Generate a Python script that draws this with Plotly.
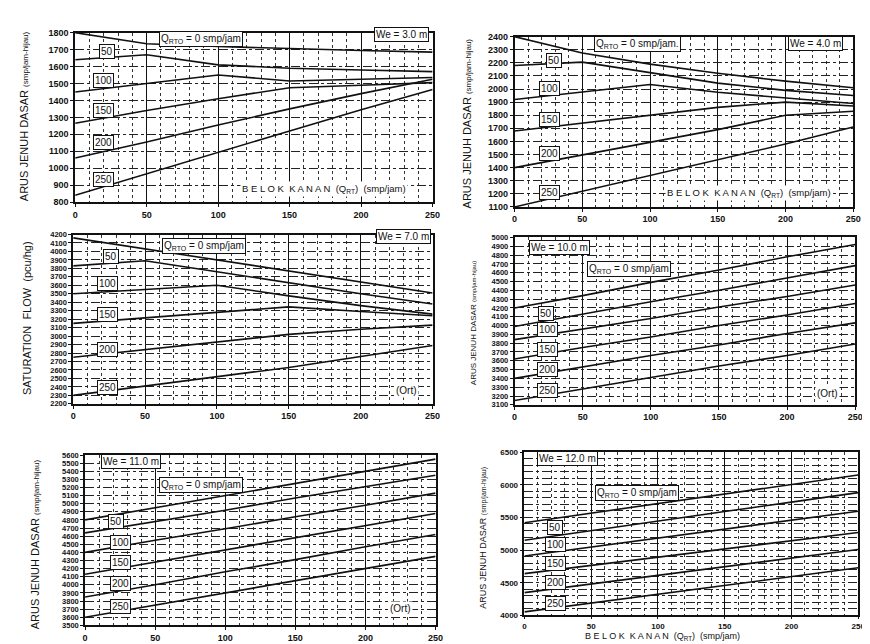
import plotly.graph_objects as go
from plotly.subplots import make_subplots

# ---------------- data ----------------
QRT = [0, 50, 100, 150, 200, 250]          # BELOK KANAN (Q_RT) smp/jam
QRTO_LEVELS = [0, 50, 100, 150, 200, 250]  # Q_RTO curves

# We = 3.0 m
we30_q0 = [1800, 1735, 1718, 1705, 1695, 1685]
we30_q50 = [1640, 1670, 1610, 1590, 1580, 1570]
we30_q100 = [1450, 1500, 1550, 1515, 1525, 1535]
we30_q150 = [1265, 1340, 1410, 1475, 1490, 1505]
we30_q200 = [1060, 1155, 1255, 1350, 1440, 1525]
we30_q250 = [840, 968, 1095, 1220, 1345, 1465]

# We = 4.0 m
we40_q0 = [2400, 2275, 2190, 2120, 2060, 2010]
we40_q50 = [2180, 2205, 2125, 2045, 1990, 1950]
we40_q100 = [1920, 1975, 2035, 1975, 1930, 1890]
we40_q150 = [1680, 1740, 1800, 1860, 1900, 1870]
we40_q200 = [1400, 1495, 1590, 1690, 1800, 1830]
we40_q250 = [1100, 1220, 1340, 1455, 1580, 1710]

# We = 7.0 m
we70_q0 = [4160, 4030, 3900, 3770, 3640, 3510]
we70_q50 = [3830, 3890, 3760, 3630, 3500, 3380]
we70_q100 = [3500, 3550, 3600, 3475, 3360, 3260]
we70_q150 = [3150, 3215, 3280, 3345, 3290, 3240]
we70_q200 = [2750, 2840, 2930, 3020, 3080, 3130]
we70_q250 = [2300, 2410, 2520, 2630, 2760, 2890]

# We = 10.0 m
we100_q0 = [4200, 4340, 4490, 4630, 4780, 4920]
we100_q50 = [3990, 4130, 4270, 4400, 4540, 4680]
we100_q100 = [3840, 3960, 4080, 4210, 4330, 4460]
we100_q150 = [3620, 3750, 3870, 4000, 4120, 4250]
we100_q200 = [3400, 3530, 3660, 3780, 3910, 4030]
we100_q250 = [3150, 3280, 3410, 3540, 3660, 3790]

# We = 11.0 m
we110_q0 = [4800, 4950, 5100, 5250, 5400, 5550]
we110_q50 = [4640, 4780, 4920, 5070, 5210, 5350]
we110_q100 = [4400, 4550, 4690, 4840, 4980, 5130]
we110_q150 = [4130, 4280, 4430, 4580, 4730, 4880]
we110_q200 = [3850, 4000, 4160, 4310, 4470, 4620]
we110_q250 = [3600, 3750, 3900, 4050, 4200, 4350]

# We = 12.0 m
we120_q0 = [5420, 5565, 5710, 5860, 6005, 6150]
we120_q50 = [5150, 5300, 5445, 5590, 5735, 5880]
we120_q100 = [4910, 5045, 5180, 5320, 5455, 5595]
we120_q150 = [4640, 4765, 4890, 5020, 5145, 5270]
we120_q200 = [4350, 4480, 4615, 4745, 4875, 5010]
we120_q250 = [4055, 4190, 4325, 4460, 4595, 4730]

WE_LABELS = ["We = 3.0 m", "We = 4.0 m", "We = 7.0 m", "We = 10.0 m", "We = 11.0 m", "We = 12.0 m"]
Y_RANGES = [[800, 1800], [1100, 2400], [2200, 4200], [3100, 5000], [3500, 5600], [4000, 6500]]

series = [
    [we30_q0, we30_q50, we30_q100, we30_q150, we30_q200, we30_q250],
    [we40_q0, we40_q50, we40_q100, we40_q150, we40_q200, we40_q250],
    [we70_q0, we70_q50, we70_q100, we70_q150, we70_q200, we70_q250],
    [we100_q0, we100_q50, we100_q100, we100_q150, we100_q200, we100_q250],
    [we110_q0, we110_q50, we110_q100, we110_q150, we110_q200, we110_q250],
    [we120_q0, we120_q50, we120_q100, we120_q150, we120_q200, we120_q250],
]

# ---------------- layout (pixel geometry of each panel) ----------------
W, H = 870, 644
dom_px = [
    ((65, 427), (20, 192)),
    ((510, 853), (24, 197)),
    ((63, 427), (225, 397)),
    ((510, 855), (228, 398)),
    ((75, 430), (449, 622)),
    ((520, 858), (446, 612)),
]
ytick_dt = [100, 100, 100, 100, 100, 500]
ytick_size = [9, 9, 7.5, 7.5, 7.5, 8]
xtick_size = [9, 9, 9, 9, 9, 8]

INK = "#111111"
FONT = "Liberation Sans"

fig = make_subplots(rows=3, cols=2)

for i, curves in enumerate(series):
    r, c = i // 2 + 1, i % 2 + 1
    for lvl, ys in zip(QRTO_LEVELS, curves):
        fig.add_trace(go.Scatter(x=QRT, y=ys, mode="lines",
                                 line=dict(color=INK, width=1.6),
                                 name=f"Q_RTO={lvl}", showlegend=False,
                                 hoverinfo="skip"), row=r, col=c)
    (x0, x1), (yt, yb) = dom_px[i]
    sx = "" if i == 0 else str(i + 1)
    fig.layout["xaxis" + sx].update(
        domain=[x0 / W, x1 / W], range=[0, 250], tick0=0, dtick=50,
        showgrid=True, gridcolor=INK, gridwidth=1.3,
        minor=dict(dtick=10, showgrid=True, gridcolor="#333", gridwidth=1, griddash="dot"),
        showline=True, linecolor=INK, linewidth=1.5, mirror=True,
        ticks="outside", ticklen=2 if i == 5 else 3, tickcolor=INK, zeroline=False,
        tickfont=dict(family=FONT, size=xtick_size[i], color=INK, weight="bold"))
    ydict = dict(
        domain=[1 - yb / H, 1 - yt / H], range=Y_RANGES[i], dtick=ytick_dt[i],
        showgrid=True, gridcolor="#222", gridwidth=1, griddash="dashdot",
        showline=True, linecolor=INK, linewidth=1.5, mirror=True,
        ticks="outside", ticklen=3, tickcolor=INK, zeroline=False,
        tickfont=dict(family=FONT, size=ytick_size[i], color=INK, weight="bold"))
    if ytick_dt[i] == 500:
        ydict["minor"] = dict(dtick=100, showgrid=True, gridcolor="#222", gridwidth=1, griddash="dashdot")
    fig.layout["yaxis" + sx].update(**ydict)

# ---------------- annotations ----------------
def box(i, x, y, text, size=10):
    sx = "" if i == 0 else str(i + 1)
    fig.add_annotation(xref="x" + sx, yref="y" + sx, x=x, y=y, text=text,
                       xanchor="center", yanchor="middle",
                       showarrow=False, font=dict(family=FONT, size=size, color=INK),
                       bgcolor="white", bordercolor=INK, borderwidth=1, borderpad=1)

def txt(i, x, y, text, size=10):
    sx = "" if i == 0 else str(i + 1)
    fig.add_annotation(xref="x" + sx, yref="y" + sx, x=x, y=y, text=text,
                       xanchor="center", yanchor="middle",
                       showarrow=False, font=dict(family=FONT, size=size, color=INK),
                       bgcolor="white")

QBOX = "Q<sub>RTO</sub> = 0 smp/jam"
BELOK = "B E L O K  K A N A N  (Q<sub>RT</sub>)  (smp/jam)"

label_pos = [
    [(22, 1690), (20, 1520), (20, 1340), (20, 1150), (20, 935)],
    [(29, 2220), (26, 2004), (26, 1768), (26, 1505), (26, 1214)],
    [(26, 3944), (24, 3620), (24, 3250), (24, 2843), (24, 2398)],
    [(23, 4140), (24, 3953), (24, 3730), (24, 3506), (24, 3265)],
    [(22, 4775), (25, 4520), (25, 4277), (25, 4010), (25, 3730)],
    [(23, 5345), (23, 5080), (23, 4790), (23, 4510), (23, 4180)],
]
qbox_pos = [(88, 1765), (91, 2340), (91, 4066), (84, 4642), (83, 5236), (84, 5871)]
we_pos = [(228, 1790), (222, 2350), (230, 4180), (33, 4883), (33, 5515), (32, 6398)]

for i in range(6):
    for (lx, ly), lvl in zip(label_pos[i], QRTO_LEVELS[1:]):
        box(i, lx, ly, str(lvl), 10)
    box(i, qbox_pos[i][0], qbox_pos[i][1], QBOX + ("." if i == 1 else ""), 10)
    box(i, we_pos[i][0], we_pos[i][1], WE_LABELS[i], 10)

txt(0, 174, 875, BELOK, 9.5)
txt(1, 173, 1204, BELOK, 9.5)
for i, (ox, oy) in [(2, (232, 2360)), (3, (230, 3223)), (4, (225, 3707))]:
    txt(i, ox, oy, "(Ort)", 10)

fig.add_annotation(xref="paper", yref="paper", x=660 / W, y=1 - 633 / H,
                   xanchor="center", yanchor="middle",
                   text=BELOK, showarrow=False,
                   font=dict(family=FONT, size=9, color=INK))

SMALL = '<span style="font-size:8px">(smp/jam-hijau)</span>'
ytitles = [
    (14, 105, "ARUS JENUH DASAR " + SMALL, 11),
    (462, 112, "ARUS JENUH DASAR " + SMALL, 11),
    (16, 310, "SATURATION  FLOW  (pcu/hg)", 11),
    (468, 315, 'ARUS JENUH DASAR <span style="font-size:6px">(smp/jam-hijau)</span>', 8),
    (24, 540, "ARUS JENUH DASAR " + SMALL, 11),
    (478, 533, 'ARUS JENUH DASAR <span style="font-size:7px">(smp/jam-hijau)</span>', 9),
]
for px, py, t, s in ytitles:
    fig.add_annotation(xref="paper", yref="paper", x=px / W, y=1 - py / H,
                       xanchor="center", yanchor="middle",
                       text=t, textangle=-90, showarrow=False,
                       font=dict(family=FONT, size=s, color=INK))

fig.update_layout(width=W, height=H, margin=dict(l=0, r=0, t=0, b=0),
                  paper_bgcolor="white", plot_bgcolor="white",
                  font=dict(family=FONT, color=INK))

fig.write_html("out.html")
